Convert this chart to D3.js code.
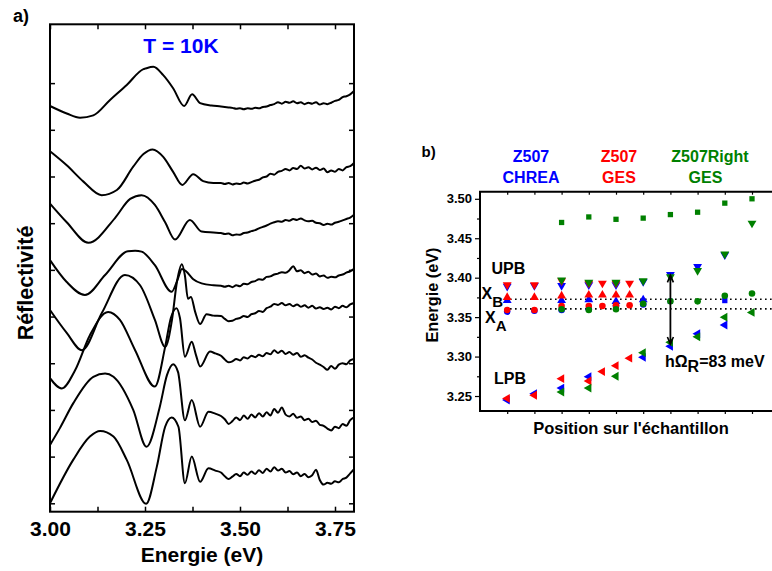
<!DOCTYPE html>
<html><head><meta charset="utf-8">
<script src="https://cdn.jsdelivr.net/npm/d3@7"></script>
<style>
body{margin:0;background:#fff}
svg{display:block}
text{font-family:"Liberation Sans",Arial,Helvetica,sans-serif;font-weight:bold}
</style>
</head><body>
<svg id="chart" width="772" height="571"></svg>
<script>
// ---------- Panel a : reflectivity spectra (energy in eV, reflectivity in offset units) ----------
// low-energy part of each spectrum (read at the features)
const energy1 = [3.000,3.044,3.079,3.114,3.158,3.202,3.246,3.250,3.272,3.298,3.324,3.353,3.374,3.395,3.425];
const refl1   = [8.51,8.35,8.26,8.31,8.64,8.96,9.30,9.31,9.35,9.17,8.89,8.51,8.76,8.57,8.52];
const energy2 = [3.000,3.044,3.088,3.136,3.176,3.219,3.246,3.270,3.298,3.324,3.348,3.377,3.403,3.430];
const refl2   = [7.54,7.24,6.89,6.60,6.71,7.21,7.48,7.58,7.42,7.10,6.82,7.05,6.90,6.86];
const energy3 = [3.000,3.044,3.101,3.171,3.211,3.241,3.276,3.303,3.329,3.368,3.399,3.430];
const refl3   = [6.42,6.02,5.58,6.11,6.52,6.60,6.39,6.02,5.65,6.07,5.82,5.80];
const energy4 = [3.000,3.044,3.092,3.145,3.205,3.224,3.241,3.276,3.320,3.337,3.347,3.358,3.377,3.399,3.430];
const refl4   = [5.21,4.74,4.46,4.89,5.40,5.41,5.39,5.10,4.53,4.82,5.02,4.97,4.80,4.71,4.67];
const energy5 = [3.000,3.044,3.084,3.136,3.197,3.237,3.276,3.303,3.321,3.334,3.347,3.355,3.363,3.371,3.382,3.395,3.412,3.430];
const refl5   = [4.14,3.65,3.28,4.07,4.89,4.67,3.93,3.35,3.93,4.74,5.12,4.88,4.38,4.42,4.10,3.84,4.05,4.02];
const energy6 = [3.000,3.031,3.066,3.105,3.153,3.184,3.224,3.276,3.303,3.318,3.333,3.342,3.355,3.373,3.384,3.395,3.421,3.435];
const refl6   = [2.68,2.46,2.85,3.60,4.10,3.93,3.28,2.50,3.35,3.97,4.18,3.97,3.14,3.46,3.18,2.93,3.25,3.21];
const energy7 = [3.000,3.026,3.061,3.114,3.145,3.167,3.219,3.254,3.289,3.308,3.324,3.337,3.355,3.373,3.395,3.417,3.435];
const refl7   = [1.25,1.61,2.14,2.71,2.78,2.71,2.00,1.21,2.07,2.75,2.98,2.81,1.78,2.21,1.64,1.96,1.92];
const energy8 = [3.000,3.061,3.105,3.132,3.167,3.202,3.253,3.281,3.303,3.320,3.338,3.355,3.373,3.395,3.417,3.435];
const refl8   = [0.00,0.93,1.43,1.55,1.43,0.93,-0.01,0.78,1.64,1.84,1.64,0.43,1.00,0.46,0.75,0.70];
// high-energy (noisy) part, sampled every 10 meV
const tailEnergy = [3.45,3.46,3.47,3.48,3.49,3.50,3.51,3.52,3.53,3.54,3.55,3.56,3.57,3.58,3.59,3.60,3.61,3.62,
                    3.63,3.64,3.65,3.66,3.67,3.68,3.69,3.70,3.71,3.72,3.73,3.74,3.75,3.76,3.77,3.78,3.79,3.80];
const tail1 = [8.50,8.49,8.48,8.47,8.45,8.46,8.44,8.46,8.45,8.47,8.46,8.49,8.50,8.53,8.55,8.59,8.56,8.60,
               8.58,8.61,8.57,8.59,8.55,8.58,8.56,8.59,8.54,8.57,8.55,8.58,8.62,8.64,8.70,8.72,8.76,8.83];
const tail2 = [6.86,6.84,6.86,6.83,6.85,6.84,6.87,6.85,6.88,6.91,6.93,6.98,7.00,7.06,7.04,7.10,7.12,7.16,
               7.13,7.18,7.16,7.23,7.17,7.20,7.15,7.19,7.14,7.17,7.09,7.13,7.10,7.16,7.13,7.20,7.22,7.29];
const tail3 = [5.79,5.77,5.78,5.74,5.76,5.75,5.79,5.80,5.83,5.85,5.89,5.92,5.95,5.99,6.02,6.04,6.03,6.07,
               6.05,6.09,6.07,6.10,6.06,6.04,6.05,6.01,6.00,5.96,5.99,5.97,6.01,6.03,6.06,6.09,6.12,6.18];
const tail4 = [4.66,4.64,4.66,4.63,4.67,4.65,4.70,4.69,4.74,4.76,4.80,4.79,4.85,4.86,4.90,4.92,4.95,4.94,
               4.99,5.08,4.97,4.99,4.93,4.96,4.90,4.92,4.86,4.88,4.83,4.85,4.84,4.88,4.90,4.94,4.97,5.02];
const tail5 = [4.01,3.95,3.90,3.91,3.95,3.97,4.01,3.99,4.05,4.07,4.12,4.10,4.18,4.21,4.27,4.25,4.29,4.24,
               4.27,4.22,4.26,4.21,4.24,4.19,4.23,4.17,4.20,4.16,4.19,4.15,4.21,4.18,4.23,4.20,4.26,4.29];
const tail6 = [3.16,3.08,3.02,3.04,3.09,3.06,3.13,3.10,3.16,3.13,3.18,3.15,3.22,3.19,3.28,3.22,3.27,3.20,
               3.24,3.18,3.22,3.14,3.17,3.12,3.08,3.01,2.97,2.92,2.86,2.94,2.88,2.97,3.00,2.98,3.06,3.09];
const tail7 = [1.87,1.80,1.70,1.76,1.84,1.78,1.88,1.81,1.90,1.84,1.93,1.86,1.95,1.88,2.02,1.94,2.05,1.90,
               1.86,1.92,1.83,1.86,1.78,1.81,1.74,1.77,1.68,1.66,1.60,1.56,1.64,1.61,1.70,1.66,1.78,1.84];
const tail8 = [0.66,0.58,0.52,0.57,0.63,0.58,0.66,0.61,0.68,0.63,0.71,0.65,0.74,0.68,0.77,0.70,0.74,0.66,
               0.69,0.62,0.66,0.58,0.63,0.56,0.60,0.72,0.50,0.40,0.44,0.42,0.47,0.45,0.52,0.55,0.64,0.73];
const energyTicks = [3.00,3.25,3.50,3.75];
const energyMinorTicks = [3.125,3.375,3.625];
const reflTicks = [0,1,2,3,4,5,6,7,8,9];

// ---------- Panel b : mode energies vs position on the sample ----------
const positionTicks = [1,2,3,4,5,6,7,8,9,10];
const energyTicksB = [3.25,3.30,3.35,3.40,3.45,3.50];
const energyMinorTicksB = [3.275,3.325,3.375,3.425,3.475];
// Z507 CHREA (blue)
const bluePosUPB = [1,2,3,4,5,6,7,8,9];
const blueUPB    = [3.389,3.390,3.390,3.391,3.391,3.395,3.404,3.414,3.429];
const bluePosXB  = [1,3,4,5,6];
const blueXB     = [3.371,3.371,3.372,3.370,3.372];
const bluePosSq  = [7,9];
const blueSq     = [3.370,3.371];
const bluePosXA  = [1,2,3,4,5,6];
const blueXA     = [3.357,3.358,3.359,3.360,3.364,3.366];
const bluePosLPB = [1,2,3,4,6,7,8,9];
const blueLPB    = [3.245,3.253,3.260,3.2745,3.299,3.313,3.329,3.340];
// Z507 GES (red)
const redPos  = [1,2,3,4,4.5,5,5.5];
const redUPB  = [3.391,3.391,3.396,3.393,3.393,3.393,3.393];
const redXB   = [3.375,3.375,3.377,3.378,3.378,3.378,3.378];
const redXA   = [3.359,3.359,3.364,3.364,3.364,3.365,3.365];
const redLPB  = [3.247,3.251,3.272,3.269,3.281,3.2885,3.298];
// Z507Right GES (green)
const greenPos = [3,4,5,6,7,8,9,10];
const greenSq  = [3.470,3.477,3.474,3.4755,3.480,3.483,3.4945,3.500];
const greenUPB = [3.397,3.394,3.394,3.396,3.401,3.409,3.430,3.469];
const greenXA  = [3.360,3.359,3.360,3.367,3.370,3.370,3.377,3.380];
const greenLPB = [3.255,3.260,3.275,3.305,3.318,3.325,3.350,3.356];
// exciton levels and Rabi splitting arrow
const excitonB = 3.3727, excitonA = 3.3604;
const rabiPos = 7, rabiTop = 3.403, rabiBottom = 3.316;

const BLUE = "#0000ff", RED = "#ff0000", GREEN = "#008000";

const svg = d3.select("#chart");

// ================= Panel a =================
const xa = d3.scaleLinear().domain([3.0, 3.8]).range([50, 354]);
const ya = d3.scaleLinear().domain([-0.18, 10.26]).range([511.7, 24.3]);
const ga = svg.append("g");

const curves = [[energy1,refl1,tail1],[energy2,refl2,tail2],[energy3,refl3,tail3],[energy4,refl4,tail4],
                [energy5,refl5,tail5],[energy6,refl6,tail6],[energy7,refl7,tail7],[energy8,refl8,tail8]];
const lineA = d3.line().x(d=>xa(d[0])).y(d=>ya(d[1])).curve(d3.curveMonotoneX);
curves.forEach(([e,r,t])=>{
  const pts = e.map((v,i)=>[v,r[i]]).concat(tailEnergy.map((v,i)=>[v,t[i]]));
  ga.append("path").datum(pts)
    .attr("d", lineA).attr("fill","none").attr("stroke","#000")
    .attr("stroke-width",2).attr("stroke-linejoin","round");
});

const allX = energyTicks.concat(energyMinorTicks).sort((a,b)=>a-b);
ga.append("g").attr("transform","translate(0,511.7)")
  .call(d3.axisBottom(xa).tickValues(allX).tickSize(-5).tickSizeOuter(0).tickPadding(9.5)
        .tickFormat(d=>energyTicks.includes(d)?d3.format(".2f")(d):""))
  .call(g=>{g.select(".domain").remove();
            g.selectAll("text").attr("font-size",21).attr("fill","#000").attr("font-family",null);
            g.selectAll("line").attr("stroke","#000").attr("stroke-width",1.5);});
ga.append("g").attr("transform","translate(0,24.3)")
  .call(d3.axisTop(xa).tickValues(allX).tickSize(-5).tickSizeOuter(0).tickFormat(""))
  .call(g=>{g.select(".domain").remove(); g.selectAll("line").attr("stroke","#000").attr("stroke-width",1.5);});
ga.append("g").attr("transform","translate(50,0)")
  .call(d3.axisLeft(ya).tickValues(reflTicks).tickSize(-5).tickSizeOuter(0).tickFormat(""))
  .call(g=>{g.select(".domain").remove(); g.selectAll("line").attr("stroke","#000").attr("stroke-width",1.5);});
ga.append("g").attr("transform","translate(354,0)")
  .call(d3.axisRight(ya).tickValues(reflTicks).tickSize(-5).tickSizeOuter(0).tickFormat(""))
  .call(g=>{g.select(".domain").remove(); g.selectAll("line").attr("stroke","#000").attr("stroke-width",1.5);});
ga.append("rect").attr("x",50).attr("y",24.3).attr("width",304).attr("height",487.4)
  .attr("fill","none").attr("stroke","#000").attr("stroke-width",2);

ga.append("text").attr("x",13).attr("y",22).attr("font-size",18).text("a)");
ga.append("text").attr("x",181).attr("y",53.3).attr("text-anchor","middle")
  .attr("font-size",21).attr("fill","#0000ff").text("T = 10K");
ga.append("text").attr("transform","translate(33,283) rotate(-90)").attr("text-anchor","middle")
  .attr("font-size",21.5).text("Réflectivité");
ga.append("text").attr("x",202).attr("y",561.5).attr("text-anchor","middle")
  .attr("font-size",21).text("Energie (eV)");

// ================= Panel b =================
const xb = d3.scaleLinear().domain([0, 11]).range([480, 779.2]);
const yb = d3.scaleLinear().domain([3.231, 3.509]).range([411, 191.7]);
const gb = svg.append("g");

gb.append("g").attr("transform","translate(480,0)")
  .call(d3.axisLeft(yb).tickValues(energyTicksB).tickSize(5).tickSizeOuter(0).tickPadding(3)
        .tickFormat(d3.format(".2f")))
  .call(g=>{g.select(".domain").remove();
            g.selectAll("text").attr("font-size",13).attr("fill","#000").attr("font-family",null);
            g.selectAll("line").attr("stroke","#000").attr("stroke-width",1.2);});
gb.append("g").attr("transform","translate(480,0)")
  .call(d3.axisLeft(yb).tickValues(energyMinorTicksB).tickSize(3).tickSizeOuter(0).tickFormat(""))
  .call(g=>{g.select(".domain").remove(); g.selectAll("line").attr("stroke","#000").attr("stroke-width",1.2);});
gb.append("g").attr("transform","translate(0,411)")
  .call(d3.axisBottom(xb).tickValues(positionTicks).tickSize(3).tickSizeOuter(0).tickFormat(""))
  .call(g=>{g.select(".domain").remove(); g.selectAll("line").attr("stroke","#000").attr("stroke-width",1.2);});
gb.append("g").attr("transform","translate(0,191.7)")
  .call(d3.axisTop(xb).tickValues(positionTicks).tickSize(-3).tickSizeOuter(0).tickFormat(""))
  .call(g=>{g.select(".domain").remove(); g.selectAll("line").attr("stroke","#000").attr("stroke-width",1.2);});
gb.append("path").attr("d","M772,191.7H480V411H772").attr("fill","none")
  .attr("stroke","#000").attr("stroke-width",2);

[excitonB, excitonA].forEach(v=>{
  gb.append("line").attr("x1",xb(0.92)).attr("x2",772).attr("y1",yb(v)).attr("y2",yb(v))
    .attr("stroke","#000").attr("stroke-width",1.6).attr("stroke-dasharray","1.6,3.4");
});

const sym = {
  down:  {type:d3.symbolTriangle, size:34, rot:180},
  up:    {type:d3.symbolTriangle, size:34, rot:0},
  left:  {type:d3.symbolTriangle, size:34, rot:-90},
  circle:{type:d3.symbolCircle,   size:34, rot:0},
  square:{type:d3.symbolSquare,   size:28, rot:0}
};
function plot(pos, vals, shape, color){
  const s = sym[shape];
  gb.append("g").selectAll("path").data(pos.map((p,i)=>[p,vals[i]])).join("path")
    .attr("d", d3.symbol().type(s.type).size(s.size))
    .attr("transform", d=>`translate(${xb(d[0])},${yb(d[1])}) rotate(${s.rot})`)
    .attr("fill", color);
}
plot(bluePosUPB, blueUPB, "down", BLUE);
plot(bluePosXB, blueXB, "up", BLUE);
plot(bluePosSq, blueSq, "square", BLUE);
plot(bluePosXA, blueXA, "circle", BLUE);
plot(bluePosLPB, blueLPB, "left", BLUE);
plot(redPos, redUPB, "down", RED);
plot(redPos, redXB, "up", RED);
plot(redPos, redXA, "circle", RED);
plot(redPos, redLPB, "left", RED);
plot(greenPos, greenSq, "square", GREEN);
plot(greenPos, greenUPB, "down", GREEN);
plot(greenPos, greenXA, "circle", GREEN);
plot(greenPos, greenLPB, "left", GREEN);

const ax = xb(rabiPos), ay1 = yb(rabiTop), ay2 = yb(rabiBottom);
gb.append("line").attr("x1",ax).attr("x2",ax).attr("y1",ay1).attr("y2",ay2)
  .attr("stroke","#000").attr("stroke-width",1.8);
gb.append("path").attr("d",`M${ax-3},${ay1+7}L${ax},${ay1}L${ax+3},${ay1+7}M${ax-3},${ay2-7}L${ax},${ay2}L${ax+3},${ay2-7}`)
  .attr("fill","none").attr("stroke","#000").attr("stroke-width",1.6);

gb.append("text").attr("x",421.5).attr("y",156.5).attr("font-size",15).text("b)");
const hdr = [["Z507","CHREA",531,BLUE],["Z507","GES",619,RED],["Z507Right","GES",710,GREEN]];
hdr.forEach(([a,b,x,c])=>{
  gb.append("text").attr("x",x).attr("y",161.5).attr("text-anchor","middle").attr("font-size",16).attr("fill",c).text(a);
  gb.append("text").attr("x",x - (a==="Z507Right"?4.5:0)).attr("y",183.3).attr("text-anchor","middle").attr("font-size",16).attr("fill",c).text(b);
});
gb.append("text").attr("transform","translate(437.5,295) rotate(-90)").attr("text-anchor","middle")
  .attr("font-size",16.3).text("Energie (eV)");
gb.append("text").attr("x",631).attr("y",434).attr("text-anchor","middle")
  .attr("font-size",16.5).text("Position sur l'échantillon");
gb.append("text").attr("x",491.5).attr("y",274).attr("font-size",16).text("UPB");
gb.append("text").attr("x",494).attr("y",384.3).attr("font-size",16).text("LPB");
const xbT = gb.append("text").attr("x",481.5).attr("y",299.3).attr("font-size",16);
xbT.append("tspan").text("X");
xbT.append("tspan").attr("dy",7.3).attr("font-size",15).text("B");
const xaT = gb.append("text").attr("x",485).attr("y",322.7).attr("font-size",16);
xaT.append("tspan").text("X");
xaT.append("tspan").attr("dy",8).attr("font-size",15).text("A");
const rT = gb.append("text").attr("x",665).attr("y",366.7).attr("font-size",16);
rT.append("tspan").text("hΩ");
rT.append("tspan").attr("dy",5.3).text("R");
rT.append("tspan").attr("dy",-5.3).text("=83 meV");
</script>
</body></html>
